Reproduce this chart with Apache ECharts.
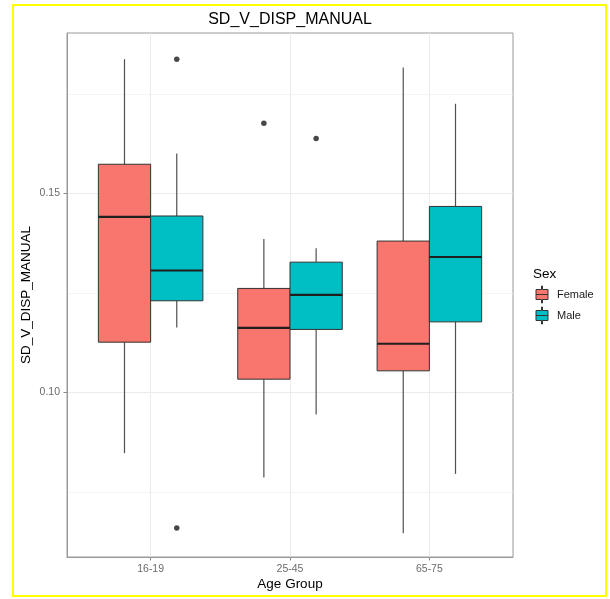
<!DOCTYPE html>
<html>
<head>
<meta charset="utf-8">
<script src="https://cdn.jsdelivr.net/npm/echarts@6/dist/echarts.min.js"></script>
<style>html,body{margin:0;padding:0;background:#fff}#c{width:610px;height:599px}</style>
</head>
<body>
<div id="c"></div>
<script>
// ---- data ----
const categories = ['16-19', '25-45', '65-75'];
// [lowerWhisker, Q1, median, Q3, upperWhisker]
const femaleBoxes = [
  [0.0847, 0.1126, 0.1441, 0.1573, 0.1837],
  [0.0786, 0.1033, 0.1162, 0.1261, 0.1385],
  [0.0646, 0.1054, 0.1122, 0.1380, 0.1816]
];
const maleBoxes = [
  [0.1163, 0.1230, 0.1306, 0.1443, 0.1600],
  [0.0944, 0.1158, 0.1245, 0.1327, 0.1362],
  [0.0795, 0.1177, 0.1340, 0.1467, 0.1725]
];
// [categoryIndex, value]
const femaleOutliers = [[1, 0.1676]];
const maleOutliers = [[0, 0.1837], [0, 0.0659], [1, 0.1638]];
const yMajorTicks = [0.10, 0.15];
const yMinorTicks = [0.075, 0.125, 0.175];
const seriesNames = ['Female', 'Male'];
const colors = ['#F8766D', '#00BFC4'];

// ---- layout constants ----
const DODGE = 0.1875, HALF = 0.1875;
const FONT = '"Liberation Sans", Arial, Helvetica, sans-serif';

function makeRender(offset, color) {
  return function (params, api) {
    const xc = api.value(0) + offset;
    const xl = xc - HALF, xr = xc + HALF;
    const lo = api.coord([xc, api.value(1)]);
    const q1 = api.coord([xc, api.value(2)]);
    const md = api.coord([xc, api.value(3)]);
    const q3 = api.coord([xc, api.value(4)]);
    const hi = api.coord([xc, api.value(5)]);
    const left = api.coord([xl, api.value(3)])[0];
    const right = api.coord([xr, api.value(3)])[0];
    const wStyle = { stroke: '#505050', lineWidth: 1.2 };
    return {
      type: 'group',
      children: [
        { type: 'line', shape: { x1: hi[0], y1: hi[1], x2: q3[0], y2: q3[1] }, style: wStyle },
        { type: 'line', shape: { x1: q1[0], y1: q1[1], x2: lo[0], y2: lo[1] }, style: wStyle },
        { type: 'rect', shape: { x: left, y: q3[1], width: right - left, height: q1[1] - q3[1] },
          style: { fill: color, stroke: '#333333', lineWidth: 1 } },
        { type: 'line', shape: { x1: left, y1: md[1], x2: right, y2: md[1] },
          style: { stroke: '#1f1f1f', lineWidth: 2.2 } }
      ]
    };
  };
}

const boxIcon = 'path://M5.5,0 L6.5,0 L6.5,3.5 L12,3.5 L12,13.5 L6.5,13.5 L6.5,17 L5.5,17 L5.5,13.5 L0,13.5 L0,3.5 L5.5,3.5 Z M0,8.5 L12,8.5';

const chart = echarts.init(document.getElementById('c'), null, { renderer: 'canvas' });
const yMin = 0.05862, yMax = 0.19028;

chart.setOption({
  backgroundColor: '#fff',
  animation: false,
  textStyle: { fontFamily: FONT },
  title: [
    { text: 'SD_V_DISP_MANUAL', left: 290, top: 12, textAlign: 'center', padding: 0,
      textStyle: { fontFamily: FONT, fontSize: 16, fontWeight: 'normal', color: '#000' } },
    { text: 'Sex', left: 533, top: 267, padding: 0,
      textStyle: { fontFamily: FONT, fontSize: 13.5, fontWeight: 'normal', color: '#000' } }
  ],
  legend: {
    orient: 'vertical', left: 535.5, top: 285.5, padding: 0,
    itemWidth: 12, itemHeight: 17, itemGap: 3,
    selectedMode: false,
    textStyle: { fontFamily: FONT, fontSize: 11, color: '#1a1a1a', padding: [0, 0, 0, 4] },
    data: seriesNames.map((n, i) => ({ name: n, icon: boxIcon,
      itemStyle: { color: colors[i], borderColor: '#333', borderWidth: 1 } }))
  },
  grid: { left: 67, right: 97, top: 33, bottom: 42, show: true, borderColor: '#9a9a9a', borderWidth: 1, backgroundColor: '#fff' },
  xAxis: {
    type: 'value', min: 0.4, max: 3.6,
    name: 'Age Group', nameLocation: 'middle', nameGap: 20, nameMoveOverlap: false,
    nameTextStyle: { fontFamily: FONT, fontSize: 13.5, color: '#000' },
    axisLine: { show: true, lineStyle: { color: '#9a9a9a' } },
    axisTick: { show: true, length: 3.5, customValues: [1, 2, 3], lineStyle: { color: '#8a8a8a' } },
    axisLabel: { customValues: [1, 2, 3], margin: 7, fontSize: 10.5, color: '#6b6b6b', fontFamily: FONT,
      formatter: v => categories[Math.round(v) - 1] },
    splitLine: { show: true, lineStyle: { color: '#ebebeb', width: 1 } }
  },
  yAxis: [
    {
      type: 'value', min: yMin, max: yMax,
      name: 'SD_V_DISP_MANUAL', nameLocation: 'middle', nameGap: 34, nameMoveOverlap: false,
      nameTextStyle: { fontFamily: FONT, fontSize: 13.5, color: '#000' },
      axisLine: { show: true, lineStyle: { color: '#9a9a9a' } },
      axisTick: { show: true, length: 3.5, customValues: yMajorTicks, lineStyle: { color: '#8a8a8a' } },
      axisLabel: { customValues: yMajorTicks, margin: 7, fontSize: 10.5, color: '#6b6b6b', fontFamily: FONT,
        formatter: v => v.toFixed(2) },
      splitLine: { show: true, lineStyle: { color: '#ebebeb', width: 1 } }
    },
    {
      type: 'value', min: yMin, max: yMax, position: 'left',
      axisLine: { show: false }, axisLabel: { show: false },
      axisTick: { show: false, customValues: yMinorTicks },
      splitLine: { show: true, lineStyle: { color: '#f3f3f3', width: 0.8 } }
    }
  ],
  graphic: [
    { type: 'rect', z: 100, silent: true, shape: { x: 13, y: 5, width: 593, height: 591 },
      style: { fill: 'none', stroke: '#ffff00', lineWidth: 2 } }
  ],
  series: [
    {
      name: 'Female', type: 'custom', yAxisIndex: 0,
      itemStyle: { color: colors[0] },
      renderItem: makeRender(-DODGE, colors[0]),
      encode: { x: 0, y: [1, 2, 3, 4, 5] },
      data: femaleBoxes.map((b, i) => [i + 1].concat(b)), z: 3
    },
    {
      name: 'Male', type: 'custom', yAxisIndex: 0,
      itemStyle: { color: colors[1] },
      renderItem: makeRender(DODGE, colors[1]),
      encode: { x: 0, y: [1, 2, 3, 4, 5] },
      data: maleBoxes.map((b, i) => [i + 1].concat(b)), z: 3
    },
    {
      name: 'FemaleOut', type: 'scatter', symbolSize: 5.5, z: 4,
      itemStyle: { color: '#1a1a1a' },
      data: femaleOutliers.map(d => [d[0] + 1 - DODGE, d[1]])
    },
    {
      name: 'MaleOut', type: 'scatter', symbolSize: 5.5, z: 4,
      itemStyle: { color: '#1a1a1a' },
      data: maleOutliers.map(d => [d[0] + 1 + DODGE, d[1]])
    }
  ]
});
</script>
</body>
</html>
